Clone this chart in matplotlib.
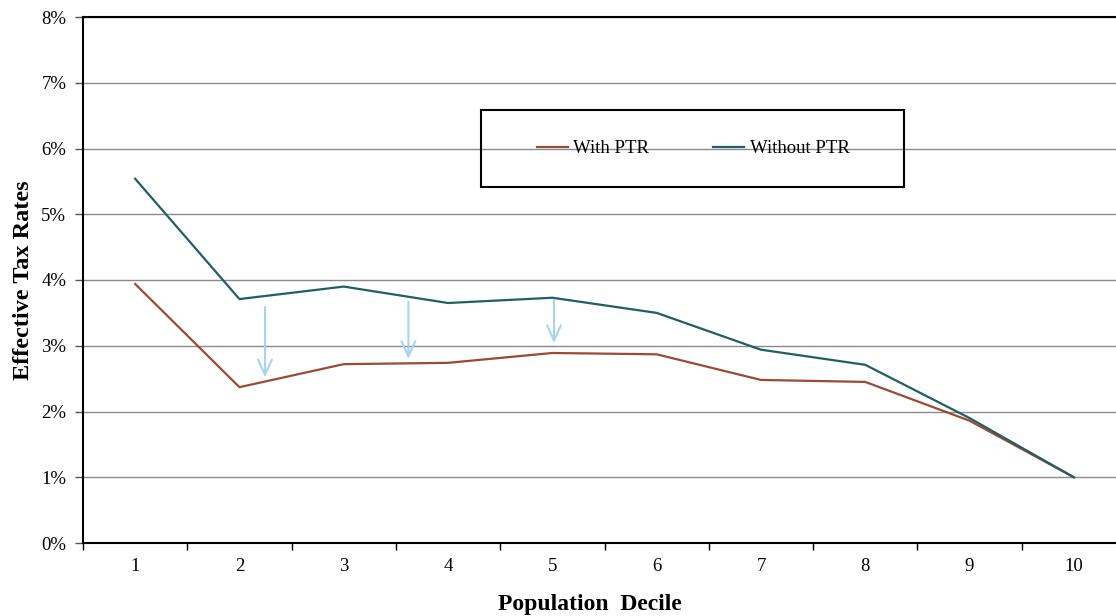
import matplotlib.pyplot as plt
from matplotlib.ticker import FixedLocator, FuncFormatter
from matplotlib.patches import Rectangle

# data (effective tax rate, %)
deciles = [1, 2, 3, 4, 5, 6, 7, 8, 9, 10]
with_ptr = [3.94, 2.37, 2.72, 2.74, 2.89, 2.87, 2.48, 2.45, 1.86, 1.0]
without_ptr = [5.54, 3.71, 3.90, 3.65, 3.73, 3.50, 2.94, 2.71, 1.90, 1.0]

# arrows showing the drop
arrow_x = [2.245, 3.62, 5.016]
arrow_from = [3.59, 3.67, 3.70]
arrow_to = [2.52, 2.80, 3.04]

plt.rcParams['font.family'] = ['Liberation Serif', 'DejaVu Serif']

fig = plt.figure(figsize=(11.16, 6.16), dpi=100)
ax = fig.add_axes([83/1116, 1 - 543/616, 1043/1116, 526/616])

ax.plot(deciles, with_ptr, color="#9c4a35", lw=1.6, label="With PTR")
ax.plot(deciles, without_ptr, color="#215f63", lw=1.6, label="Without PTR")

for x, y0, y1 in zip(arrow_x, arrow_from, arrow_to):
    ax.annotate("", xy=(x, y1), xytext=(x, y0),
                arrowprops=dict(arrowstyle="->,head_length=0.55,head_width=0.25",
                                color="#a6d4f2", lw=1.5, mutation_scale=20,
                                shrinkA=0, shrinkB=0))

ax.set_xlim(0.5, 10.5)
ax.set_ylim(0, 8)
ax.set_yticks(range(0, 9))
ax.yaxis.set_major_formatter(FuncFormatter(lambda v, p: f"{v:.0f}%"))
ax.set_xticks(deciles)
ax.xaxis.set_minor_locator(FixedLocator([d - 0.5 for d in deciles] + [10.5]))
ax.tick_params(axis="x", which="major", length=0, pad=11, labelsize=13.5)
ax.tick_params(axis="x", which="minor", length=5, width=1, direction="out")
ax.tick_params(axis="y", length=6, width=1, color="#555555", pad=6, labelsize=13.5)

ax.grid(axis="y", color="#8a8a8a", lw=1)
ax.set_axisbelow(True)
for s in ["left", "bottom", "top"]:
    ax.spines[s].set_linewidth(1.5)
    ax.spines[s].set_color("black")
ax.spines["right"].set_visible(False)

ax.set_ylabel("Effective Tax Rates", fontsize=17.5, fontweight="bold", labelpad=5)
ax.set_xlabel("Population  Decile", fontsize=17, fontweight="bold")
ax.xaxis.set_label_coords(0.486, -0.097)

# legend box
fig.patches.append(Rectangle((481/1116, 1 - 187/616), 423/1116, 77/616,
                             transform=fig.transFigure, fill=False,
                             edgecolor="black", lw=1.5))
fig.legend(loc="center", bbox_to_anchor=(693/1116, 1 - 148.5/616), ncol=2,
           frameon=False, fontsize=13.5, handlelength=1.65, handletextpad=0.3,
           columnspacing=3.4)

fig.savefig("out.png", dpi=100)
